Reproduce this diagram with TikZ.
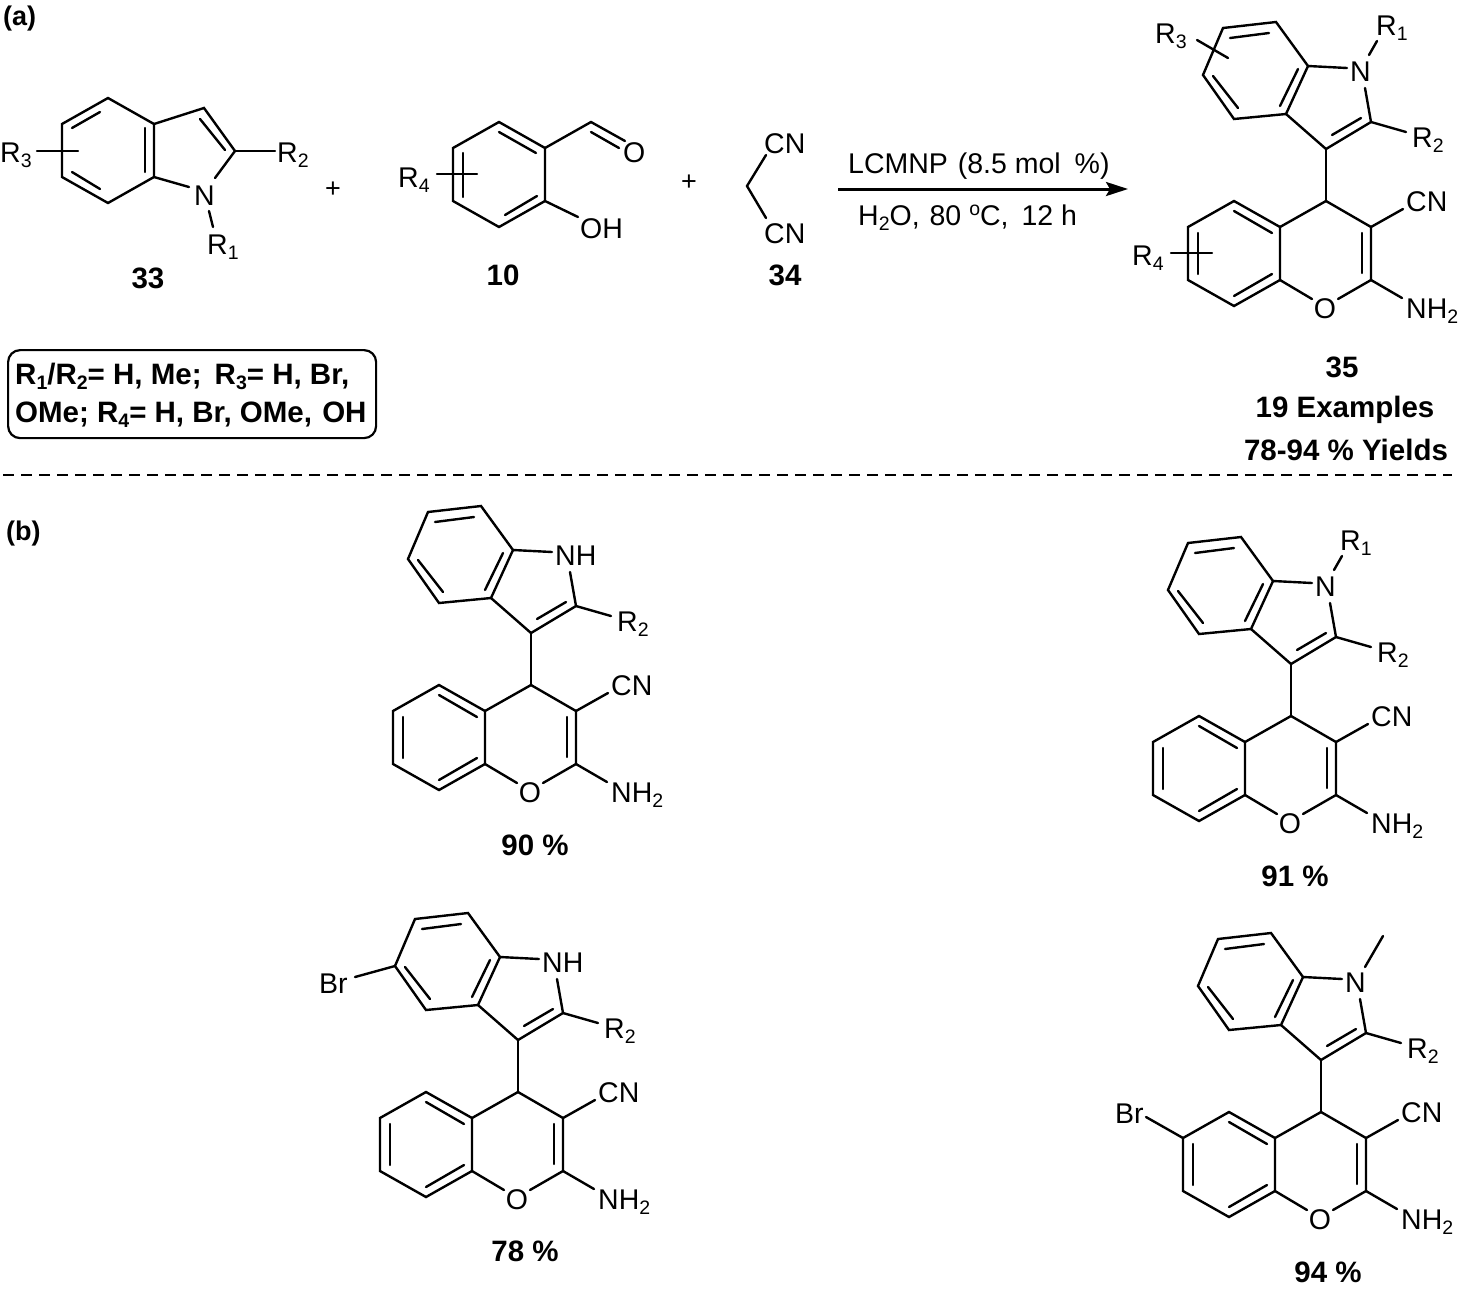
\documentclass[tikz,border=0pt]{standalone}
\usepackage{fontspec}
\setmainfont{Liberation Sans}
\usetikzlibrary{arrows.meta}
\newcommand\chemf{\fontsize{28.5}{32}\selectfont}
\newcommand\boldf{\fontsize{29.5}{32}\selectfont\bfseries}
\newcommand\panelf{\fontsize{27}{32}\selectfont\bfseries}
\newcommand\sbs[1]{\raisebox{-5.5pt}{\fontsize{19.5}{20}\selectfont #1}}
\newcommand\sps[1]{\raisebox{10pt}{\fontsize{19.5}{20}\selectfont #1}}
\tikzset{
  bond/.style={line width=2.4pt,line join=miter,line cap=round,black},
  atomlab/.style={inner sep=0pt,anchor=base west,font=\chemf,text=black},
  atomc/.style={inner sep=0pt,anchor=base,font=\chemf,text=black},
  boldlab/.style={inner sep=0pt,anchor=base,font=\boldf,text=black},
  boldleft/.style={inner sep=0pt,anchor=base west,font=\boldf,text=black},
  panellab/.style={inner sep=0pt,anchor=base west,font=\panelf,text=black},
  rxnarrow/.style={line width=3pt,-{Stealth[length=22pt,width=14pt,inset=4pt]}},
  plusmark/.style={inner sep=0pt,font=\fontsize{27}{30}\selectfont,text=black},
  sep/.style={line width=1.8pt,dash pattern=on 11pt off 7pt},
  subbox/.style={draw,line width=2.2pt,rounded corners=12pt}
}
\newcommand\core{%
  \coordinate (C4) at (0,0);
  \coordinate (C3i) at (0,-52);
  \coordinate (C2i) at (45,-79);
  \coordinate (Ne1) at (21,-133);
  \coordinate (Ne2) at (39,-113);
  \coordinate (c3a) at (-40,-87);
  \coordinate (c7a) at (-18,-135);
  \coordinate (a2) at (-50,-179);
  \coordinate (a1) at (-103,-173);
  \coordinate (a6) at (-123,-126);
  \coordinate (a5) at (-92,-82);
  \coordinate (C3c) at (45,26);
  \coordinate (C2c) at (45,79);
  \coordinate (C4a) at (-46,26);
  \coordinate (C8a) at (-46,79);
  \coordinate (C8) at (-92,105);
  \coordinate (C7) at (-138,79);
  \coordinate (C6) at (-138,26);
  \coordinate (C5) at (-92,0);
  \coordinate (Oe1) at (-14,98);
  \coordinate (Oe2) at (12,98);
  \coordinate (CNe) at (77,8);
  \coordinate (NH2e) at (76,97);
  \coordinate (R2e) at (80,-69);
  \coordinate (i1a) at (-96,-163); \coordinate (i1b) at (-57,-168);
  \coordinate (i2a) at (-28,-132); \coordinate (i2b) at (-46,-95);
  \coordinate (i3a) at (-88,-93);  \coordinate (i3b) at (-113,-125);
  \coordinate (i4a) at (35,-83);   \coordinate (i4b) at (6,-66);
  \coordinate (i5a) at (-92,10);   \coordinate (i5b) at (-54,32);
  \coordinate (i6a) at (-128,32);  \coordinate (i6b) at (-128,73);
  \coordinate (i7a) at (-92,95);   \coordinate (i7b) at (-54,73);
  \coordinate (i8a) at (36,32);    \coordinate (i8b) at (36,72);
  \draw[bond] (c7a) -- (a2) -- (a1) -- (a6) -- (a5) -- (c3a) -- cycle;
  \draw[bond] (c7a) -- (Ne1);
  \draw[bond] (Ne2) -- (C2i) -- (C3i) -- (c3a);
  \draw[bond] (C2i) -- (R2e);
  \draw[bond] (C3i) -- (C4);
  \draw[bond] (C4) -- (C3c) -- (C2c) -- (Oe2);
  \draw[bond] (C4) -- (C4a);
  \draw[bond] (C4a) -- (C5) -- (C6) -- (C7) -- (C8) -- (C8a) -- cycle;
  \draw[bond] (C8a) -- (Oe1);
  \draw[bond] (C3c) -- (CNe);
  \draw[bond] (C2c) -- (NH2e);
  \draw[bond] (i1a) -- (i1b);
  \draw[bond] (i2a) -- (i2b);
  \draw[bond] (i3a) -- (i3b);
  \draw[bond] (i4a) -- (i4b);
  \draw[bond] (i5a) -- (i5b);
  \draw[bond] (i6a) -- (i6b);
  \draw[bond] (i7a) -- (i7b);
  \draw[bond] (i8a) -- (i8b);
  \node[atomlab] (labCN) at (80,10) {CN};
  \node[atomlab] (labNH) at (80,117) {NH\sbs{2}};
  \node[atomc] (labO) at (-1,117) {O};
  \node[atomlab] (labR) at (86,-54) {R\sbs{2}};
}
\begin{document}
\begin{tikzpicture}[x=1pt,y=-1pt]
\useasboundingbox (0,0) rectangle (1462,1294);
\node[panellab] (pa) at (3,25) {(a)};
\node[panellab] (pb) at (6,540) {(b)};

% reactant 33
\begin{scope}[name prefix=r33-]
  \coordinate (a) at (108,98); \coordinate (b) at (62,124); \coordinate (c) at (62,177);
  \coordinate (d) at (108,203); \coordinate (e) at (154,177); \coordinate (f) at (154,124);
  \coordinate (g) at (204,108); \coordinate (h) at (235,151);
  \coordinate (n1) at (189,187); \coordinate (n2) at (215,178);
  \coordinate (n3) at (209,211); \coordinate (r1) at (213,227);
  \coordinate (r3a) at (37,151); \coordinate (r3b) at (78,151);
  \coordinate (r2) at (275,151);
  \coordinate (x1) at (72,128); \coordinate (x2) at (100,112);
  \coordinate (y1) at (72,172); \coordinate (y2) at (100,189);
  \coordinate (z1) at (145,128); \coordinate (z2) at (145,172);
  \coordinate (w1) at (200,119); \coordinate (w2) at (225,150);
  \draw[bond] (a) -- (b) -- (c) -- (d) -- (e) -- (f) -- cycle;
  \draw[bond] (f) -- (g) -- (h) -- (n2);
  \draw[bond] (e) -- (n1);
  \draw[bond] (n3) -- (r1);
  \draw[bond] (r3a) -- (r3b);
  \draw[bond] (h) -- (r2);
  \draw[bond] (x1) -- (x2);
  \draw[bond] (y1) -- (y2);
  \draw[bond] (z1) -- (z2);
  \draw[bond] (w1) -- (w2);
  \node[atomlab] (labR3) at (0,162) {R\sbs{3}};
  \node[atomlab] (labR2) at (277,162) {R\sbs{2}};
  \node[atomlab] (labN) at (194,205) {N};
  \node[atomlab] (labR1) at (207,254) {R\sbs{1}};
  \node[boldlab] (num) at (148,288) {33};
\end{scope}
\node[plusmark] (plus1) at (333,190) {+};

% reactant 10
\begin{scope}[name prefix=r10-]
  \coordinate (a) at (499,122); \coordinate (b) at (545,148); \coordinate (c) at (545,201);
  \coordinate (d) at (499,227); \coordinate (e) at (453,201); \coordinate (f) at (453,148);
  \coordinate (cho) at (591,122); \coordinate (o1) at (625,141);
  \coordinate (o2) at (591,132); \coordinate (o3) at (619,148);
  \coordinate (oh) at (578,217);
  \coordinate (x1) at (499,132); \coordinate (x2) at (536,153);
  \coordinate (y1) at (505,215); \coordinate (y2) at (537,196);
  \coordinate (z1) at (463,153); \coordinate (z2) at (463,197);
  \coordinate (r4a) at (437,174); \coordinate (r4b) at (477,174);
  \draw[bond] (a) -- (b) -- (c) -- (d) -- (e) -- (f) -- cycle;
  \draw[bond] (b) -- (cho) -- (o1);
  \draw[bond] (o2) -- (o3);
  \draw[bond] (c) -- (oh);
  \draw[bond] (x1) -- (x2);
  \draw[bond] (y1) -- (y2);
  \draw[bond] (z1) -- (z2);
  \draw[bond] (r4a) -- (r4b);
  \node[atomlab] (labO) at (623,162) {O};
  \node[atomlab] (labOH) at (580,238) {OH};
  \node[atomlab] (labR4) at (398,187) {R\sbs{4}};
  \node[boldlab] (num) at (503,285) {10};
\end{scope}
\node[plusmark] (plus2) at (689,183) {+};

% reactant 34
\begin{scope}[name prefix=r34-]
  \coordinate (m) at (747,186); \coordinate (u) at (766,155); \coordinate (v) at (766,218);
  \draw[bond] (u) -- (m) -- (v);
  \node[atomlab] (labU) at (764,153) {CN};
  \node[atomlab] (labV) at (764,243) {CN};
  \node[boldlab] (num) at (785,285) {34};
\end{scope}

% arrow
\coordinate (arrS) at (838,189);
\coordinate (arrE) at (1128,189);
\draw[rxnarrow] (arrS) -- (arrE);
\node[atomlab] (cond1) at (848,173) {LCMNP\kern2pt\ (8.5 mol\kern6pt\ \%)};
\node[atomlab] (cond2) at (858,225) {H\sbs{2}O,\kern2pt\ 80 \sps{o}C,\kern5pt\ 12 h};

% product 35
\begin{scope}[shift={(1326,201)},name prefix=p35-]
  \core
  \node[atomlab] (labN1) at (24,-120) {N};
  \coordinate (r1a) at (43,-146); \coordinate (r1b) at (51,-160);
  \draw[bond] (r1a) -- (r1b);
  \node[atomlab] (labR1) at (50,-166) {R\sbs{1}};
  \coordinate (r3a) at (-129,-161); \coordinate (r3b) at (-98,-143);
  \draw[bond] (r3a) -- (r3b);
  \node[atomlab] (labR3) at (-171,-158) {R\sbs{3}};
  \coordinate (r4a) at (-155,52); \coordinate (r4b) at (-114,52);
  \draw[bond] (r4a) -- (r4b);
  \node[atomlab] (labR4) at (-194,64) {R\sbs{4}};
\end{scope}
\node[boldlab] (n35) at (1342,377) {35};
\node[boldlab] (ex35) at (1345,417) {19 Examples};
\node[boldlab] (yl35) at (1346,460) {78-94 \% Yields};

% substituent box
\node[subbox,minimum width=368pt,minimum height=88pt,anchor=north west] (subs) at (7,349) {};
\node[boldleft] (subs1) at (15,384) {R\sbs{1}/R\sbs{2}= H, Me;\, R\sbs{3}= H, Br,};
\node[boldleft] (subs2) at (15,422) {OMe; R\sbs{4}= H, Br, OMe,\kern2pt\ OH};

% separator
\coordinate (sepL) at (3,475);
\coordinate (sepR) at (1452,475);
\draw[sep] (sepL) -- (sepR);

% b1
\begin{scope}[shift={(531,685)},name prefix=b1-]
  \core
  \node[atomlab] (labN1) at (24,-120) {NH};
\end{scope}
\node[boldlab] (y90) at (535,855) {90 \%};

% b2
\begin{scope}[shift={(1291,716)},name prefix=b2-]
  \core
  \node[atomlab] (labN1) at (24,-120) {N};
  \coordinate (r1a) at (43,-146); \coordinate (r1b) at (51,-160);
  \draw[bond] (r1a) -- (r1b);
  \node[atomlab] (labR1) at (49,-166) {R\sbs{1}};
\end{scope}
\node[boldlab] (y91) at (1295,886) {91 \%};

% b3
\begin{scope}[shift={(518,1092)},name prefix=b3-]
  \core
  \node[atomlab] (labN1) at (24,-120) {NH};
  \coordinate (bre) at (-163,-115);
  \draw[bond] (a6) -- (bre);
  \node[atomlab] (labBr) at (-199,-99) {Br};
\end{scope}
\node[boldlab] (y78) at (525,1261) {78 \%};

% b4
\begin{scope}[shift={(1321,1112)},name prefix=b4-]
  \core
  \node[atomlab] (labN1) at (24,-120) {N};
  \coordinate (mea) at (44,-145); \coordinate (meb) at (62,-176);
  \draw[bond] (mea) -- (meb);
  \coordinate (bre) at (-175,5);
  \draw[bond] (C6) -- (bre);
  \node[atomlab] (labBr) at (-206,11) {Br};
\end{scope}
\node[boldlab] (y94) at (1328,1282) {94 \%};
\end{tikzpicture}
\end{document}
